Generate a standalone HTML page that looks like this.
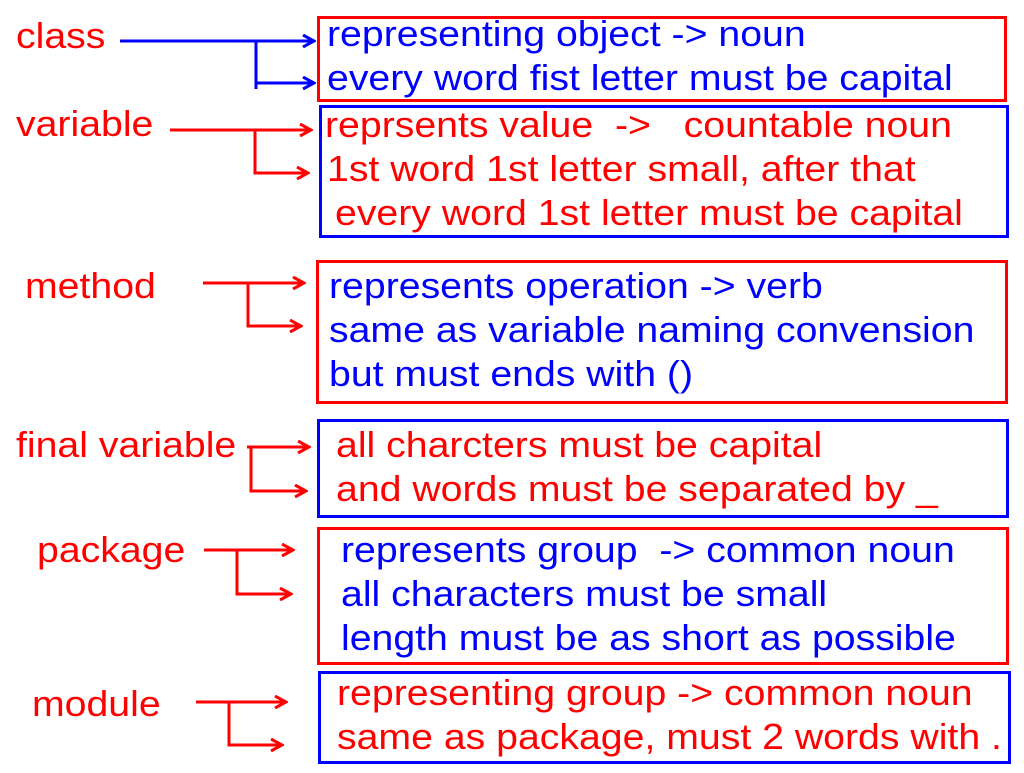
<!DOCTYPE html>
<html><head><meta charset="utf-8"><style>
html,body{margin:0;padding:0;background:#fff;}
svg text{font-family:"Liberation Sans",Arial,sans-serif;font-size:36px;}
</style></head><body>
<svg width="1024" height="768" xmlns="http://www.w3.org/2000/svg">
<defs>
<marker id="ab" markerWidth="14" markerHeight="14" refX="12" refY="7" orient="auto" markerUnits="userSpaceOnUse"><path d="M1,1 L12,7 L1,13" fill="none" stroke="#00f" stroke-width="3"/></marker>
<marker id="ar" markerWidth="14" markerHeight="14" refX="12" refY="7" orient="auto" markerUnits="userSpaceOnUse"><path d="M1,1 L12,7 L1,13" fill="none" stroke="#f00" stroke-width="3"/></marker>
</defs>
<g fill="none" stroke-width="3">
<rect x="318.5" y="17.5" width="687" height="83" stroke="#f00"/>
<rect x="320.5" y="106.5" width="687" height="130" stroke="#00f"/>
<rect x="317.5" y="261.5" width="689" height="141" stroke="#f00"/>
<rect x="318.5" y="420.5" width="689" height="96" stroke="#00f"/>
<rect x="318.5" y="528.5" width="689" height="135" stroke="#f00"/>
<rect x="319.5" y="672.5" width="690" height="90" stroke="#00f"/>
<g stroke="#00f">
<path d="M120,41 H314" marker-end="url(#ab)"/>
<path d="M256,41 V89 M256,83 H314" marker-end="url(#ab)"/>
</g>
<g stroke="#f00">
<path d="M170,130 H311" marker-end="url(#ar)"/>
<path d="M255,130 V173 H308" marker-end="url(#ar)"/>
<path d="M203,283 H304" marker-end="url(#ar)"/>
<path d="M248,283 V326 H301" marker-end="url(#ar)"/>
<path d="M247,447 H309" marker-end="url(#ar)"/>
<path d="M251,447 V491 H306" marker-end="url(#ar)"/>
<path d="M204,550 H293" marker-end="url(#ar)"/>
<path d="M237,550 V594 H291" marker-end="url(#ar)"/>
<path d="M196,702 H286" marker-end="url(#ar)"/>
<path d="M229,702 V745 H282" marker-end="url(#ar)"/>
</g>
</g>
<g fill="#f00">
<text transform="translate(16,48) scale(1.09,1)">class</text>
<text transform="translate(16,136) scale(1.09,1)">variable</text>
<text transform="translate(25,298) scale(1.09,1)">method</text>
<text transform="translate(16,457) scale(1.09,1)">final variable</text>
<text transform="translate(37,562) scale(1.09,1)">package</text>
<text transform="translate(32,716) scale(1.09,1)">module</text>
</g>
<g fill="#00f">
<text transform="translate(327,46) scale(1.09,1)">representing object -&gt; noun</text>
<text transform="translate(327,90) scale(1.09,1)">every word fist letter must be capital</text>
</g>
<g fill="#f00">
<text transform="translate(325,137) scale(1.09,1)" xml:space="preserve">reprsents value  -&gt;   countable noun</text>
<text transform="translate(327,181) scale(1.09,1)">1st word 1st letter small, after that</text>
<text transform="translate(335,225) scale(1.09,1)">every word 1st letter must be capital</text>
</g>
<g fill="#00f">
<text transform="translate(329,298) scale(1.09,1)">represents operation -&gt; verb</text>
<text transform="translate(329,342) scale(1.09,1)">same as variable naming convension</text>
<text transform="translate(329,386) scale(1.09,1)">but must ends with ()</text>
</g>
<g fill="#f00">
<text transform="translate(336,457) scale(1.09,1)">all charcters must be capital</text>
<text transform="translate(336,501) scale(1.09,1)">and words must be separated by _</text>
</g>
<g fill="#00f">
<text transform="translate(341,562) scale(1.09,1)" xml:space="preserve">represents group  -&gt; common noun</text>
<text transform="translate(341,606) scale(1.09,1)">all characters must be small</text>
<text transform="translate(341,650) scale(1.09,1)">length must be as short as possible</text>
</g>
<g fill="#f00">
<text transform="translate(337,705) scale(1.09,1)">representing group -&gt; common noun</text>
<text transform="translate(337,749) scale(1.09,1)">same as package, must 2 words with .</text>
</g>
</svg>
</body></html>
